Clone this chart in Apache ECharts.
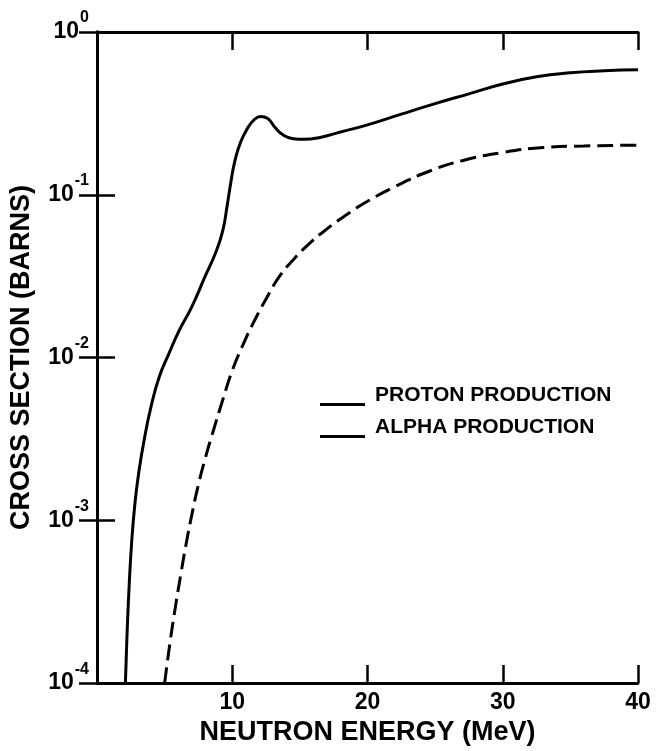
<!DOCTYPE html>
<html>
<head>
<meta charset="utf-8">
<script src="https://cdn.jsdelivr.net/npm/echarts@6/dist/echarts.min.js"></script>
<style>
html,body{margin:0;padding:0;background:#fff;}
#chart{width:657px;height:751px;}
</style>
</head>
<body>
<div id="chart"></div>
<script>
// Neutron energy (MeV) vs cross section (barns)
const protonEnergy = [2.1, 2.2, 2.35, 2.55, 2.8, 3.1, 3.5, 4.0, 4.6, 5.3, 6.1, 7.0, 8.0, 8.8, 9.3, 9.6, 9.9, 10.2, 10.6, 11.1, 11.6, 12.1, 12.6, 13.2, 13.8, 14.5, 15.3, 16.5, 18.0, 20.0, 22.5, 25.0, 27.5, 30.0, 32.5, 35.0, 37.5, 40.0];
const protonXS     = [1.00e-4, 1.78e-4, 3.55e-4, 7.08e-4, 1.26e-3, 2.00e-3, 3.16e-3, 5.01e-3, 7.59e-3, 1.05e-2, 1.48e-2, 2.04e-2, 3.16e-2, 4.47e-2, 6.03e-2, 8.32e-2, 0.120, 0.162, 0.209, 0.254, 0.288, 0.303, 0.295, 0.257, 0.232, 0.221, 0.219, 0.225, 0.243, 0.269, 0.313, 0.363, 0.417, 0.479, 0.531, 0.562, 0.578, 0.586];

const alphaEnergy = [5.0, 5.4, 5.8, 6.2, 6.6, 7.0, 7.5, 8.0, 8.6, 9.3, 10.0, 10.8, 11.6, 12.5, 13.5, 14.5, 15.7, 17.0, 18.5, 20.0, 22.0, 24.7, 27.0, 30.0, 33.0, 36.0, 40.0];
const alphaXS     = [1.00e-4, 1.78e-4, 2.95e-4, 4.68e-4, 7.24e-4, 1.07e-3, 1.66e-3, 2.40e-3, 3.55e-3, 5.50e-3, 8.32e-3, 1.20e-2, 1.66e-2, 2.29e-2, 3.16e-2, 3.98e-2, 5.01e-2, 6.17e-2, 7.59e-2, 9.12e-2, 0.112, 0.141, 0.162, 0.182, 0.195, 0.1995, 0.2018];

const seriesNames = ['PROTON PRODUCTION', 'ALPHA PRODUCTION'];
const xTickLabels = ['', '10', '20', '30', '40'];
const xTitle = 'NEUTRON ENERGY (MeV)';
const yTitle = 'CROSS SECTION (BARNS)';

const FONT = 'Liberation Sans';
const INK = '#000';
const WEIGHT = 'bold';

function zip(a, b) { return a.map((v, i) => [v, b[i]]); }

const chart = echarts.init(document.getElementById('chart'), null, {renderer: 'canvas'});

const tickStyle = {show: true, inside: true, length: 18, lineStyle: {color: INK, width: 2.5}};
const lineStyle = {show: true, lineStyle: {color: INK, width: 2.8}};

const option = {
  backgroundColor: '#fff',
  animation: false,
  grid: {left: 97, top: 32, right: 19, bottom: 64, containLabel: false},
  legend: {
    orient: 'vertical',
    left: 320,
    top: 385,
    padding: 0,
    itemWidth: 45,
    itemHeight: 21,
    itemGap: 11,
    symbolKeepAspect: false,
    icon: 'path://M0,0 L45,0 L45,0.01 Z M0,18 L45,18 L45,21 L0,21 Z',
    textStyle: {fontFamily: FONT, fontSize: 21, fontWeight: WEIGHT, color: INK, padding: [0, 0, 0, 5]},
    data: seriesNames
  },
  xAxis: [
    {
      type: 'value', min: 0, max: 40, interval: 10, position: 'bottom',
      axisLine: lineStyle, axisTick: tickStyle, splitLine: {show: false},
      axisLabel: {
        margin: 8, fontFamily: FONT, fontSize: 23, fontWeight: WEIGHT, color: INK,
        formatter: v => xTickLabels[Math.round(v / 10)]
      },
      name: xTitle, nameLocation: 'middle', nameGap: 35,
      nameTextStyle: {fontFamily: FONT, fontSize: 27, fontWeight: WEIGHT, color: INK}
    },
    {
      type: 'value', min: 0, max: 40, interval: 10, position: 'top',
      axisLine: lineStyle, axisTick: tickStyle, splitLine: {show: false},
      axisLabel: {show: false}
    }
  ],
  yAxis: [
    {
      type: 'log', logBase: 10, min: 1e-4, max: 1, interval: 1, position: 'left',
      axisLine: lineStyle, axisTick: tickStyle, splitLine: {show: false}, minorTick: {show: false},
      axisLabel: {
        margin: 8, color: INK,
        formatter: v => {
          const e = Math.round(Math.log10(v));
          return '{a|10}{b|' + (e === 0 ? '0' : '-' + Math.abs(e)) + '}';
        },
        rich: {
          a: {fontFamily: FONT, fontSize: 23, fontWeight: WEIGHT, color: INK, verticalAlign: 'middle'},
          b: {fontFamily: FONT, fontSize: 16, fontWeight: WEIGHT, color: INK, verticalAlign: 'top', padding: [0, 0, 28, 1]}
        }
      },
      name: yTitle, nameLocation: 'middle', nameGap: 62, nameRotate: 90,
      nameTextStyle: {fontFamily: FONT, fontSize: 27, fontWeight: WEIGHT, color: INK}
    },
    {
      type: 'log', logBase: 10, min: 1e-4, max: 1, interval: 1, position: 'right',
      axisLine: lineStyle, axisTick: tickStyle, splitLine: {show: false},
      axisLabel: {show: false}
    }
  ],
  series: [
    {
      name: seriesNames[0], type: 'line', xAxisIndex: 0, yAxisIndex: 0,
      data: zip(protonEnergy, protonXS),
      smooth: 0.5, showSymbol: false, symbol: 'none',
      color: INK,
      lineStyle: {color: INK, width: 3}
    },
    {
      name: seriesNames[1], type: 'line', xAxisIndex: 0, yAxisIndex: 0,
      data: zip(alphaEnergy, alphaXS),
      smooth: 0.5, showSymbol: false, symbol: 'none',
      color: INK,
      lineStyle: {color: INK, width: 3, type: [16, 7]}
    }
  ]
};

chart.setOption(option);
</script>
</body>
</html>
